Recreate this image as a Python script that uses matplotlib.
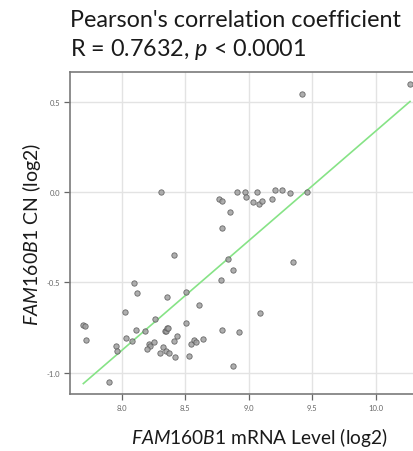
import matplotlib
matplotlib.use('Agg')

import numpy as np
import matplotlib.pyplot as plt

# ── Dados ─────────────────────────────────────────────────────────────────────
mrna_level = [
    7.698, 7.711, 7.717, 7.898, 7.953, 7.965, 8.026, 8.031, 8.097, 8.118,
    8.083, 8.113, 8.181, 8.262, 8.215, 8.223, 8.202, 8.257, 8.302, 8.328,
    8.351, 8.372, 8.422, 8.357, 8.341, 8.349, 8.359, 8.367, 8.409, 8.433,
    8.506, 8.509, 8.530, 8.546, 8.569, 8.583, 8.611, 8.874, 8.780, 9.089,
    8.790, 8.926, 8.638, 8.879, 8.769, 8.790, 8.906, 8.973, 9.065, 8.976,
    9.034, 9.081, 9.107, 9.183, 9.207, 9.262, 9.323, 9.459, 8.855, 8.787,
    8.835, 9.346, 9.417, 10.270, 8.309, 8.414,
]
copy_number = [
    -0.738, -0.740, -0.819, -1.054, -0.851, -0.882, -0.664, -0.810, -0.506, -0.558,
    -0.823, -0.766, -0.770, -0.702, -0.842, -0.851, -0.871, -0.831, -0.890, -0.857,
    -0.880, -0.893, -0.915, -0.580, -0.770, -0.768, -0.755, -0.751, -0.825, -0.799,
    -0.552, -0.725, -0.908, -0.840, -0.819, -0.832, -0.624, -0.430, -0.489, -0.672,
    -0.766, -0.777, -0.814, -0.963, -0.039, -0.048, -0.002, 0.000, 0.000, -0.029,
    -0.055, -0.068, -0.048, -0.040, 0.013, 0.013, -0.004, 0.002, -0.112, -0.198,
    -0.371, -0.386, 0.544, 0.600, 0.000, -0.350,
]
fit_slope = 0.607
fit_intercept = -5.733

x_ticks = [8.0, 8.5, 9.0, 9.5, 10.0]
y_ticks = [-1.0, -0.5, 0.0, 0.5]

titulo = "Pearson's correlation coefficient\nR = 0.7632, $\\it{p}$ < 0.0001"

# ── Figura ────────────────────────────────────────────────────────────────────
plt.rcParams['font.family'] = ['Lato', 'DejaVu Sans']
plt.rcParams['mathtext.fontset'] = 'custom'
plt.rcParams['mathtext.it'] = 'Lato:italic'
plt.rcParams['mathtext.rm'] = 'Lato'

fig = plt.figure(figsize=(4.13, 4.52), dpi=100)
# o eixo original continua além da borda direita (imagem recortada)
ax = fig.add_axes([70 / 413, 57 / 452, 378 / 413, 322 / 452])

ax.grid(color='#e3e3e3', linewidth=1.0)
ax.set_axisbelow(True)

xs = np.array(mrna_level)
ys = np.array(copy_number)
ax.scatter(xs, ys, s=15, facecolor='#a0a0a0', edgecolor='#585858',
           linewidth=0.6, alpha=0.85, zorder=3)

x_fit = np.array([xs.min(), xs.max()])
ax.plot(x_fit, fit_slope * x_fit + fit_intercept, color='#86e386',
        linewidth=1.2, zorder=2)

ax.set_xlim(7.593, 10.569)
ax.set_ylim(-1.118, 0.664)
ax.set_xticks(x_ticks)
ax.set_yticks(y_ticks)
ax.set_xticklabels([f"{v:.1f}" for v in x_ticks])
ax.set_yticklabels([f"{v:.1f}" for v in y_ticks])
ax.tick_params(labelsize=5.5, labelcolor='#666666', color='#666666',
               length=4, width=0.9, pad=3)

for lado in ['left', 'bottom', 'top']:
    ax.spines[lado].set_color('#7a7a7a')
    ax.spines[lado].set_linewidth(1.2)
ax.spines['right'].set_visible(False)

ax.set_xlabel("$\\it{FAM160B1}$ mRNA Level (log2)", fontsize=13.8, color='#1a1a1a',
              labelpad=10)
ax.set_ylabel("$\\it{FAM160B1}$ CN (log2)", fontsize=14, color='#1a1a1a',
              labelpad=3)

fig.text(70 / 413, 1 - 10 / 452, titulo, fontsize=16.8, color='#1a1a1a',
         ha='left', va='top', linespacing=1.33)

plt.savefig("out.png", dpi=100)
plt.close()
